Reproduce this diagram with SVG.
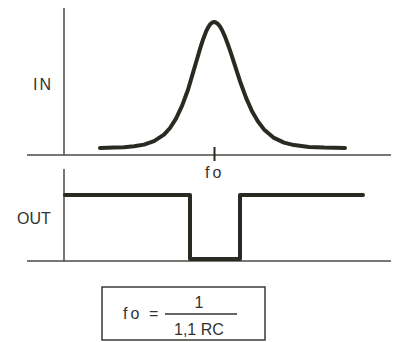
<svg xmlns="http://www.w3.org/2000/svg" width="398" height="342" viewBox="0 0 398 342">
<style>
.axis{stroke:#4a4a45;stroke-width:1.5;fill:none}
.sig{stroke:#2a2a22;stroke-width:4;fill:none;stroke-linejoin:round;stroke-linecap:round}
.t{font-family:"Liberation Sans",Arial,sans-serif;font-size:16px;fill:#333330}
</style>
<rect width="398" height="342" fill="#ffffff"/>
<g id="in-graph">
<line class="axis" x1="64" y1="8" x2="64" y2="155"/>
<line class="axis" x1="27" y1="155" x2="391" y2="155"/>
<line x1="214.5" y1="147" x2="214.5" y2="161" stroke="#2a2a22" stroke-width="2"/>
<polyline class="sig" points="100,147.9 114,147.6 124,147.2 134,146.3 144,144.6 154,141.2 164,134.6 170,128 176,118.6 182,105.9 188,89.7 194,69.4 197,59.2 200,48.9 203,39.6 206,31.7 208,27.6 210,24.5 212,22.6 214,22 216,22.5 218,24.1 220,26.6 222,30 225,36.6 228,44.7 231,53.4 234,62.7 240,81.2 246,97.6 252,111.2 258,121.5 264,129.4 274,137.9 284,142.6 294,145.1 309,146.9 324,147.6 345,147.9"/>
<text class="t" x="33" y="90" font-size="17" letter-spacing="2">IN</text>
<text class="t" x="205" y="178" letter-spacing="3">fo</text>
</g>
<g id="out-graph">
<line class="axis" x1="64" y1="169" x2="64" y2="261"/>
<line class="axis" x1="27" y1="261" x2="391" y2="261"/>
<polyline class="sig" stroke-linecap="butt" stroke-linejoin="miter" points="65,195 190,195 190,259 240,259 240,195 363,195"/>
<text class="t" x="17" y="224" font-size="15.5">OUT</text>
</g>
<g id="formula">
<rect x="102" y="287" width="163" height="53" fill="none" stroke="#3a3a36" stroke-width="1.5"/>
<text class="t" x="123" y="319" letter-spacing="3">fo</text>
<text class="t" x="149" y="319">=</text>
<text class="t" x="199" y="308" text-anchor="middle">1</text>
<line x1="165" y1="314" x2="237" y2="314" stroke="#333330" stroke-width="1.5"/>
<text class="t" x="174" y="335">1,1 RC</text>
</g>
</svg>
